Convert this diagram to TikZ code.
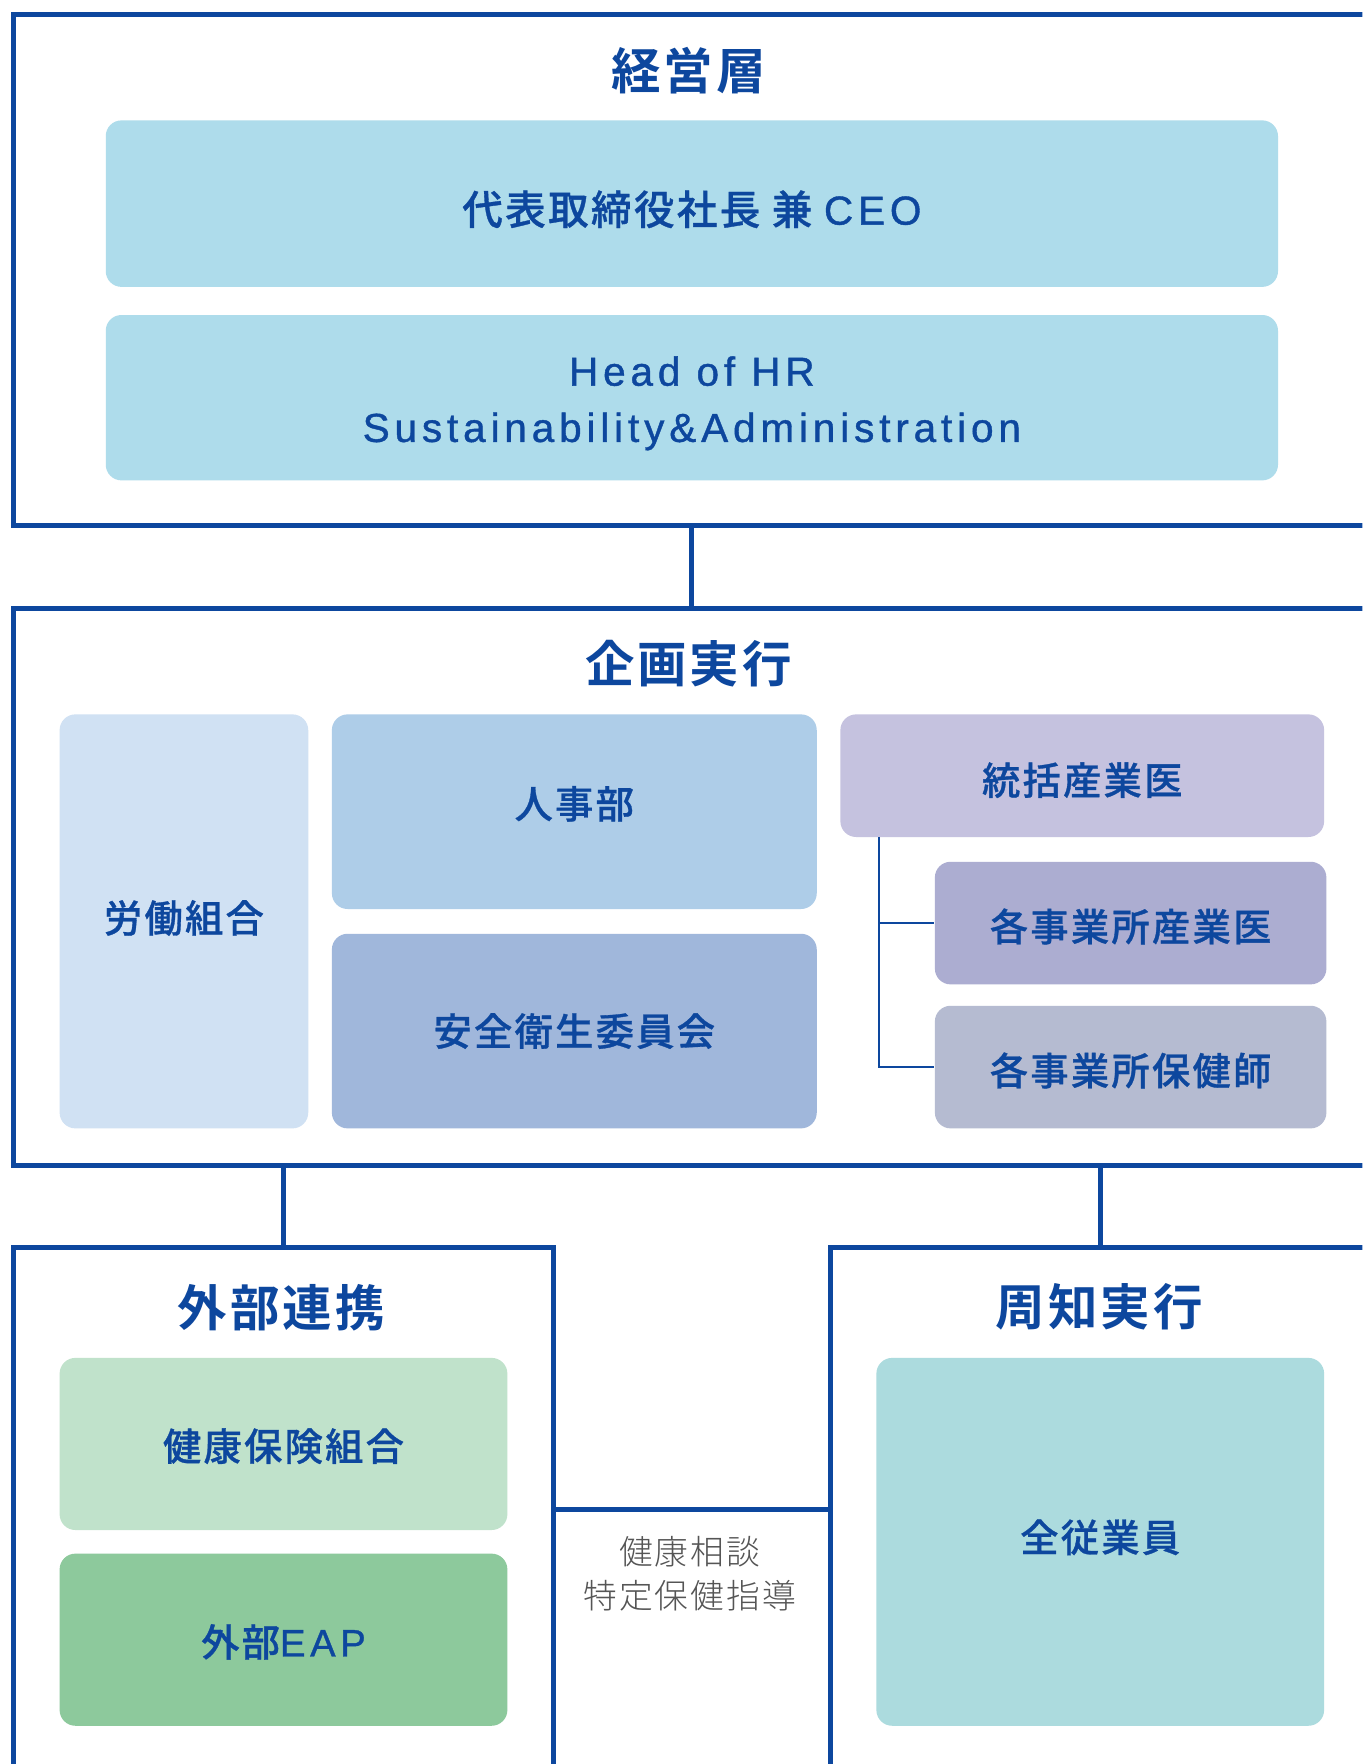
\documentclass[tikz,border=0pt]{standalone}
\usepackage{fontspec}
\setmainfont{Noto Sans CJK JP}
\newfontfamily\jpsp{Noto Sans CJK JP Medium}[LetterSpace=6, FakeBold=0.8]
\newfontfamily\jpbd{Noto Sans CJK JP Bold}[LetterSpace=6]
\newfontfamily\jplt{Noto Sans CJK JP Light}[LetterSpace=6]
\newfontfamily\latsp{Liberation Sans}[LetterSpace=12, FakeBold=1]
\usetikzlibrary{calc}
\definecolor{navy}{HTML}{0D479E}
\definecolor{ceofill}{HTML}{AEDCEB}
\definecolor{unionfill}{HTML}{D0E1F3}
\definecolor{hrfill}{HTML}{AECDE8}
\definecolor{safefill}{HTML}{A0B7DB}
\definecolor{sangyofill}{HTML}{C5C2DF}
\definecolor{dafill}{HTML}{ACADD1}
\definecolor{dbfill}{HTML}{B5BBD1}
\definecolor{kenpofill}{HTML}{C0E2CB}
\definecolor{eapfill}{HTML}{8DC99C}
\definecolor{allfill}{HTML}{ACDBDE}
\definecolor{graytext}{HTML}{555555}
\newcommand{\dn}[2]{\raisebox{-#1pt}[\height][\depth]{#2}}
\tikzset{
  frame/.style={draw=navy, line width=2.3pt, inner sep=0pt, rectangle},
  box/.style={rectangle, rounded corners=7pt, inner sep=0pt, text=navy, font=\jpsp\fontsize{17}{21}\selectfont, align=center},
  title/.style={text=navy, inner sep=0pt, font=\jpbd\fontsize{22}{26}\selectfont},
  thick link/.style={draw=navy, line width=2.3pt},
  thin link/.style={draw=navy, line width=0.9pt},
}
\begin{document}
\begin{tikzpicture}[x=0.5pt, y=-0.5pt]
\useasboundingbox (0,0) rectangle (1211,1568);
\fill[white] (0,0) rectangle (1211,1568);
\clip (0,0) rectangle (1211,1568);

% frames
\node[frame, minimum width=609pt, minimum height=227pt] (f1) at (621,240) {};
\node[frame, minimum width=609pt, minimum height=247.5pt] (f2) at (621,788.5) {};
\node[frame, minimum width=240pt, minimum height=255.5pt] (f3) at (252,1364.5) {};
\node[frame, minimum width=240pt, minimum height=255.5pt] (f4) at (978,1364.5) {};

% titles
\node[title] (t1) at (612,63) {経営層};
\node[title] (t2) at (612,590) {企画実行};
\node[title] (t3) at (250,1162) {外部連携};
\node[title] (t4) at (977,1162) {周知実行};

% top boxes
\node[box, fill=ceofill, minimum width=521pt, minimum height=74pt, font=\jpsp\fontsize{18}{25}\selectfont] (ceo) at (615,181) {\dn{2.5}{代表取締役社長 兼 {\latsp CEO}}};
\node[box, fill=ceofill, minimum width=521pt, minimum height=73.5pt, font=\latsp\fontsize{18}{25}\selectfont] (hr) at (615,353.5) {\dn{2.5}{Head of HR}\\\dn{2.5}{Sustainability\&Administration}};

% middle boxes
\node[box, fill=unionfill, minimum width=110.5pt, minimum height=184pt] (union) at (163.5,819) {\dn{-1.5}{労働組合}};
\node[box, fill=hrfill, minimum width=215.5pt, minimum height=86.5pt] (jinji) at (510.5,721.5) {\dn{-3.5}{人事部}};
\node[box, fill=safefill, minimum width=215.5pt, minimum height=86.5pt] (safe) at (510.5,916.5) {安全衛生委員会};
\node[box, fill=sangyofill, minimum width=215pt, minimum height=54.5pt] (sangyo) at (962,689.5) {\dn{2}{統括産業医}};
\node[box, fill=dafill, minimum width=174pt, minimum height=54.5pt] (da) at (1005,820.5) {\dn{1.5}{各事業所産業医}};
\node[box, fill=dbfill, minimum width=174pt, minimum height=54.5pt] (db) at (1005,948.5) {\dn{1.5}{各事業所保健師}};

% bottom boxes
\node[box, fill=kenpofill, minimum width=199pt, minimum height=76.5pt] (kenpo) at (252,1283.5) {\dn{1}{健康保険組合}};
\node[box, fill=eapfill, minimum width=199pt, minimum height=76.5pt] (eap) at (252,1457.5) {\dn{1}{外部{\latsp EAP}}};
\node[box, fill=allfill, minimum width=199pt, minimum height=163.5pt] (all) at (978,1370.5) {\dn{-2}{全従業員}};

% connectors
\draw[thick link] (f1.south -| ceo.center) -- (f2.north -| ceo.center);
\draw[thick link] (f3.north) -- (f3.north |- f2.south);
\draw[thick link] (f4.north) -- (f4.north |- f2.south);
\coordinate (mid) at (492,1342);
\draw[thick link] (f3.east |- mid) -- (f4.west |- mid);
\coordinate (tree) at (781,744);
\draw[thin link] (sangyo.south -| tree) |- (da.west);
\draw[thin link] (sangyo.south -| tree) |- (db.west);

% consultation text
\node[text=graytext, align=center, inner sep=0pt, font=\jplt\fontsize{15}{19.5}\selectfont] (consult) at (613,1399) {健康相談\\特定保健指導};
\end{tikzpicture}
\end{document}
